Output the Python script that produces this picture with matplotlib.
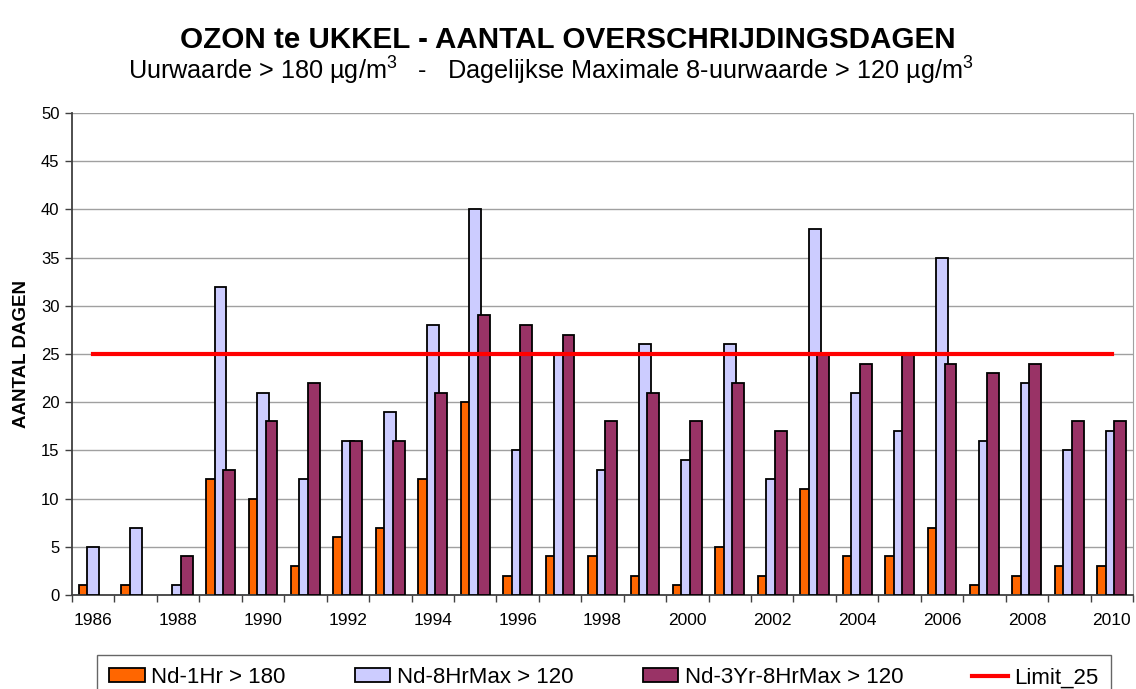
import matplotlib
matplotlib.use("Agg")
import matplotlib.pyplot as plt
import numpy as np

plt.rcParams['font.family'] = ['Liberation Sans', 'DejaVu Sans']
plt.rcParams['mathtext.fontset'] = 'custom'
plt.rcParams['mathtext.rm'] = 'Liberation Sans'

years = list(range(1986, 2011))
# None = no value for that year
nd_1hr = [1, 1, None, 12, 10, 3, 6, 7, 12, 20, 2, 4, 4, 2, 1, 5, 2, 11, 4, 4, 7, 1, 2, 3, 3]
nd_8hr = [5, 7, 1, 32, 21, 12, 16, 19, 28, 40, 15, 25, 13, 26, 14, 26, 12, 38, 21, 17, 35, 16, 22, 15, 17]
nd_3yr = [None, None, 4, 13, 18, 22, 16, 16, 21, 29, 28, 27, 18, 21, 18, 22, 17, 25, 24, 25, 24, 23, 24, 18, 18]
limit = [25] * len(years)

fig = plt.figure(figsize=(11.36, 6.89), dpi=100)
ax = fig.add_axes([72 / 1136, 1 - 595 / 689, (1133 - 72) / 1136, (595 - 113) / 689])

x = np.arange(len(years))
w = 0.28
off = 0.2
b1 = ax.bar(x - off, np.array(nd_1hr, dtype=float), w, color='#FF6600', edgecolor='black',
            linewidth=1.3, label='Nd-1Hr > 180', zorder=2)
b2 = ax.bar(x, np.array(nd_8hr, dtype=float), w, color='#CCCCFF', edgecolor='black',
            linewidth=1.3, label='Nd-8HrMax > 120', zorder=3)
b3 = ax.bar(x + off, np.array(nd_3yr, dtype=float), w, color='#993366', edgecolor='black',
            linewidth=1.3, label='Nd-3Yr-8HrMax > 120', zorder=4)
ln, = ax.plot(x, limit, color='#FF0000', linewidth=3, label='Limit_25', zorder=5)

ax.set_xlim(-0.5, len(years) - 0.5)
ax.set_ylim(0, 50)
ax.set_yticks(range(0, 51, 5))
ax.yaxis.grid(True, color='#A0A0A0', linewidth=1, zorder=0)
ax.set_axisbelow(True)

ax.set_xticks(x[::2])
ax.set_xticklabels([str(y) for y in years[::2]])
ax.set_xticks(np.arange(-0.5, len(years), 1), minor=True)
ax.tick_params(axis='x', which='major', length=0, labelsize=12.5, pad=13)
ax.tick_params(axis='x', which='minor', length=5, width=1, color='#404040')
ax.tick_params(axis='y', length=5, width=1, labelsize=12, color='#404040', pad=4)

ax.spines['top'].set_visible(False)
ax.spines['left'].set_color('#404040')
ax.spines['left'].set_linewidth(1.3)
ax.spines['bottom'].set_color('#404040')
ax.spines['bottom'].set_linewidth(1.3)
ax.spines['right'].set_color('#A0A0A0')

ax.set_ylabel('AANTAL DAGEN', fontsize=13.5, fontweight='bold', labelpad=8)

fig.text(0.5, 1 - 40 / 689, 'OZON te UKKEL - AANTAL OVERSCHRIJDINGSDAGEN',
         ha='center', va='center', fontsize=21.3, fontweight='bold')
fig.text(0.485, 1 - 71 / 689,
         r'Uurwaarde > 180 µg/m$^3$   -   Dagelijkse Maximale 8-uurwaarde > 120 µg/m$^3$',
         ha='center', va='center', fontsize=18.2)

leg = fig.legend(handles=[b1, b2, b3, ln], loc='upper left', ncol=4, mode='expand',
                 bbox_to_anchor=(97 / 1136, 1 - 655 / 689, (1111 - 97) / 1136, 0.0),
                 fontsize=16, frameon=True, fancybox=False, borderpad=0.55,
                 handlelength=1.6, handleheight=0.6, handletextpad=0.3, borderaxespad=0)
leg.get_frame().set_edgecolor('#404040')
leg.get_frame().set_linewidth(1)

fig.savefig('out.png', dpi=100)
